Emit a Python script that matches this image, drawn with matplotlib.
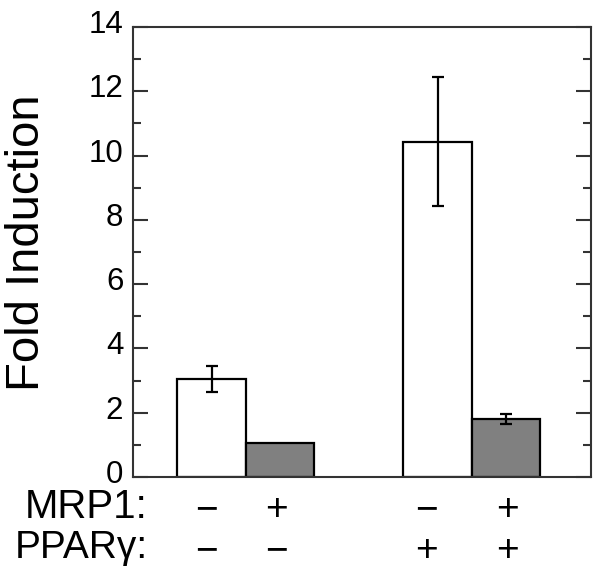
import numpy as np
import matplotlib.pyplot as plt
import matplotlib.transforms as mtransforms

plt.rcParams['font.family'] = ['Liberation Sans', 'DejaVu Sans']

# data
fold = [3.05, 1.05, 10.43, 1.80]
err = [0.40, 0.0, 2.00, 0.15]
colors = ['white', '#808080', 'white', '#808080']
mrp1 = ['\u2212', '+', '\u2212', '+']
ppar = ['\u2212', '\u2212', '+', '+']
xpos = [1.15, 2.15, 4.45, 5.45]
sign_x = [1.08, 2.09, 4.29, 5.47]

W, H = 601, 574
fig = plt.figure(figsize=(W / 100, H / 100), dpi=100)
ax = fig.add_axes([133 / W, 1 - 477 / H, 458 / W, 450 / H])

ax.bar(xpos, fold, width=1.0, color=colors, edgecolor='black', linewidth=1.6, zorder=2)
for x, y, e in zip(xpos, fold, err):
    if e > 0:
        ax.errorbar(x, y, yerr=e, fmt='none', ecolor='black', elinewidth=1.6,
                    capsize=4.5, capthick=1.6, zorder=3)

ax.set_xlim(0, 6.69)
ax.set_ylim(0, 14)
ax.set_xticks([])
ax.set_yticks(np.arange(0, 15, 2))
ax.set_yticks(np.arange(1, 14, 2), minor=True)
ax.tick_params(axis='y', which='major', direction='in', length=11, width=1.5,
               left=True, right=True, labelsize=22.5, pad=7, color='#333333')
ax.tick_params(axis='y', which='minor', direction='in', length=6, width=1.5,
               left=True, right=True, color='#333333')
for s in ax.spines.values():
    s.set_linewidth(1.5)
    s.set_color('#333333')

# tick labels sit a little above their ticks in the original
shift = mtransforms.ScaledTranslation(0, 4 / 72, fig.dpi_scale_trans)
for lab in ax.get_yticklabels():
    lab.set_transform(lab.get_transform() + shift)

fig.text(27 / W, 1 - 243 / H, 'Fold Induction', fontsize=34, rotation=90,
         ha='center', va='center')

# row labels
fig.text(148 / W, 1 - 518 / H, 'MRP1:', fontsize=29, ha='right', va='baseline')
fig.text(148 / W, 1 - 558 / H, 'PPAR\u03b3:', fontsize=28, ha='right', va='baseline')

trans = ax.get_xaxis_transform()
for x, m, p in zip(sign_x, mrp1, ppar):
    ax.text(x, -(510 - 477) / 450, m, transform=trans, fontsize=28,
            ha='center', va='center')
    ax.text(x, -(551 - 477) / 450, p, transform=trans, fontsize=28,
            ha='center', va='center')

fig.savefig('out.png', dpi=100)
